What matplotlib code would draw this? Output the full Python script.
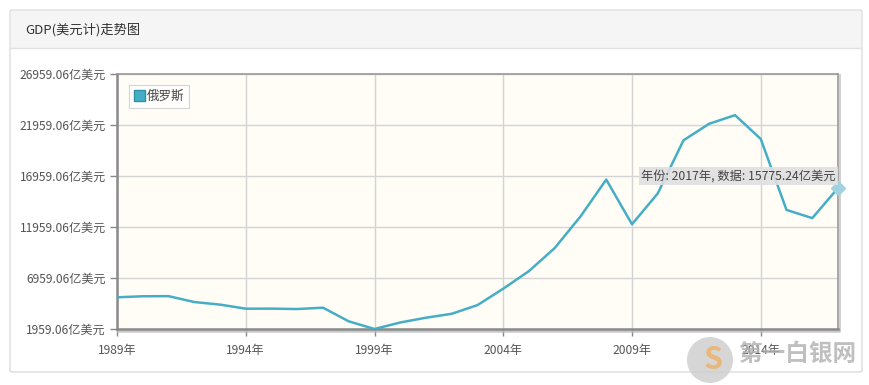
import matplotlib
matplotlib.use("Agg")
import matplotlib.pyplot as plt
from matplotlib.patches import FancyBboxPatch, Rectangle, Ellipse, Patch
import matplotlib.patheffects as pe

plt.rcParams['font.family'] = ['Noto Sans CJK SC', 'DejaVu Sans']

years = list(range(1989, 2018))
gdp = [5065, 5168, 5180, 4603, 4351, 3951, 3955, 3917, 4049, 2710,
       1959.06, 2597, 3066, 3451, 4303, 5910, 7640, 9899, 12997, 16608,
       12225, 15249, 20459, 22083, 22925, 20592, 13635, 12828, 15775.24]
series_name = "俄罗斯"
yticks = [1959.06, 6959.06, 11959.06, 16959.06, 21959.06, 26959.06]
xticks = [1989, 1994, 1999, 2004, 2009, 2014]
title = "GDP(美元计)走势图"
tip = "年份: 2017年, 数据: 15775.24亿美元"

W, H = 870, 385
fig = plt.figure(figsize=(W/100, H/100), dpi=100)
fig.patch.set_facecolor('white')

# outer panel
panel = FancyBboxPatch((10/W, 13/H), 852/W, 362/H, boxstyle="round,pad=0,rounding_size=0.004",
                       transform=fig.transFigure, facecolor='white', edgecolor='#dddddd', lw=1, zorder=-5)
fig.patches.append(panel)
hdr = Rectangle((11/W, (H-48)/H), 850/W, 37/H, transform=fig.transFigure,
                facecolor='#f5f5f5', edgecolor='none', zorder=-4)
fig.patches.append(hdr)
fig.lines.append(plt.Line2D([11/W, 861/W], [(H-48)/H]*2, transform=fig.transFigure, color='#e2e2e2', lw=1, zorder=-3))
fig.text(25/W, (H-30)/H, title, fontsize=9.5, color='#333333', va='center', ha='left')

l, r, t, b = 117, 838, 74, 329
ax = fig.add_axes([l/W, (H-b)/H, (r-l)/W, (b-t)/H])
ax.set_zorder(1)
ax.set_facecolor('#fffdf6')
ax.plot(years, gdp, color='#45aec6', lw=1.8, zorder=3, label=series_name)
ax.set_xlim(1989, 2017)
ax.set_ylim(1959.06, 26959.06)
ax.set_xticks(xticks)
ax.set_xticklabels([f"{y}年" for y in xticks])
ax.set_yticks(yticks)
ax.set_yticklabels([f"{v:.2f}亿美元" for v in yticks])
ax.grid(True, color='#d4d4d4', lw=1)
ax.set_axisbelow(True)
ax.tick_params(axis='both', labelsize=8.7, colors='#888888', labelcolor='#555555', length=5, width=1)
ax.tick_params(axis='x', pad=6)
ax.tick_params(axis='y', pad=3)
for s in ['left', 'bottom']:
    ax.spines[s].set_color('#8a8a8a')
    ax.spines[s].set_linewidth(1.8)
for s in ['top', 'right']:
    ax.spines[s].set_color('#999999')
    ax.spines[s].set_linewidth(1.2)
ax.spines['right'].set_path_effects([pe.SimpleLineShadow(offset=(1.5, -1), shadow_color='#bbbbbb', alpha=0.8), pe.Normal()])
ax.spines['bottom'].set_path_effects([pe.SimpleLineShadow(offset=(1, -1.5), shadow_color='#bbbbbb', alpha=0.8), pe.Normal()])

# last point marker
ax.plot([years[-1]], [gdp[-1]], marker='D', ms=7, color='#9fd3df', mec='#9fd3df', zorder=4, clip_on=False)

# legend
leg = ax.legend(handles=[Patch(facecolor='#45aec6', edgecolor='#2f8fa6', label=series_name)],
                loc='upper left', bbox_to_anchor=(0.016, 0.957), borderaxespad=0, fontsize=9, frameon=True,
                handlelength=0.9, handleheight=0.9, handletextpad=0.15, borderpad=0.4,
                fancybox=False, edgecolor='#cccccc')
leg.get_frame().set_linewidth(0.8)
for txt in leg.get_texts():
    txt.set_color('#444444')

# tooltip
ax.text(years[-1] - 0.08, 16950, tip, fontsize=8.8, color='#444444', ha='right', va='center', zorder=5,
        bbox=dict(boxstyle='square,pad=0.2', facecolor='#e0e0e0', edgecolor='none', alpha=0.9))

# watermark (drawn above the axes)
wm = fig.add_axes([0, 0, 1, 1], facecolor='none')
wm.set_zorder(5)
wm.set_xlim(0, W)
wm.set_ylim(H, 0)
wm.axis('off')
wm.add_patch(Ellipse((710, 360), 46, 46, facecolor='#cfcfcf', edgecolor='none', alpha=0.85))
wm.text(713, 360, "S", fontsize=22, fontweight='bold', color='#eab77a', ha='center', va='center')
wm.text(797, 354, "第一白银网", fontsize=17, fontweight='bold', color='#b0b0b0',
        ha='center', va='center', alpha=0.8)

fig.savefig("out.png", dpi=100)
